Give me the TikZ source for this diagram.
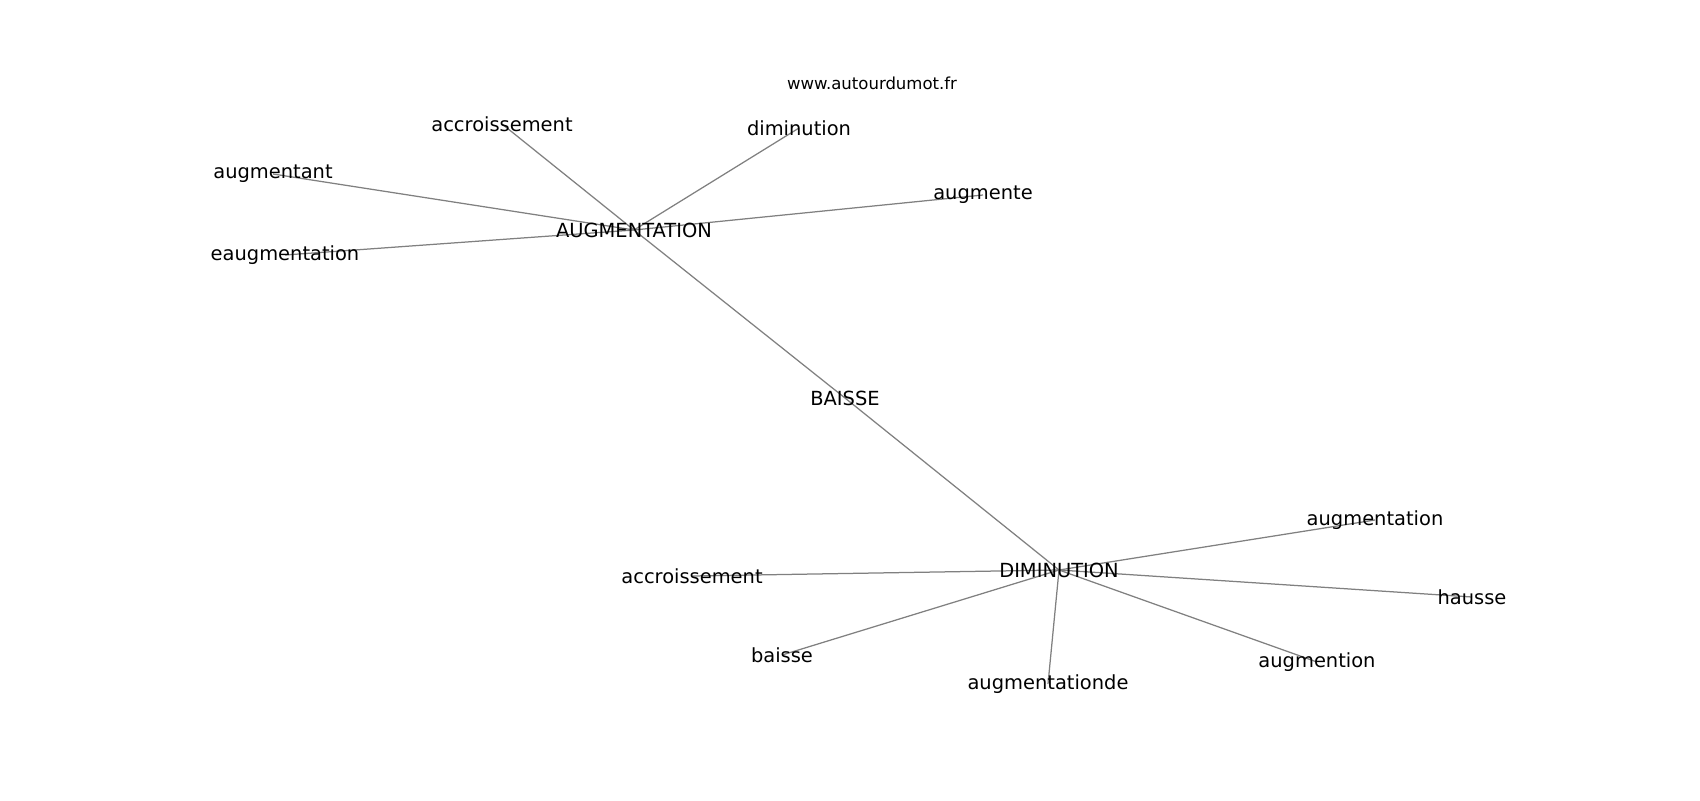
\documentclass[tikz,border=0pt]{standalone}
\usepackage{fontspec}
\setmainfont{DejaVu Sans}
\usetikzlibrary{backgrounds}

\begin{document}
\begin{tikzpicture}[x=0.72pt, y=-0.72pt]
\tikzset{
	    myword/.style={inner sep=0pt, font=\fontsize{14}{16}\selectfont, text=black},
	    mytitle/.style={inner sep=0pt, font=\fontsize{11.9}{14}\selectfont, text=black},
	    myedge/.style={draw=gray, line width=0.9pt}
	}
	\useasboundingbox (0,0) rectangle (1700,800);

	\node[mytitle] (site) at (872,83) {www.autourdumot.fr};

	\node[myword] (baisseC) at (845,398) {BAISSE};
	\node[myword] (augC) at (634,230) {AUGMENTATION};
	\node[myword] (dimC) at (1059,570) {DIMINUTION};

	\node[myword] (accA) at (502,124) {accroissement};
	\node[myword] (dimA) at (799,128) {diminution};
	\node[myword] (augmentant) at (273,174) {augmentant};
	\node[myword] (augmente) at (983,195) {augmente};
	\node[myword] (reaug) at (285,255) {eaugmentation};

	\node[myword] (augD) at (1375,520) {augmentation};
	\node[myword] (hausse) at (1472,597) {hausse};
	\node[myword] (augmention) at (1317,662) {augmention};
	\node[myword] (augde) at (1048,684) {augmentationde};
	\node[myword] (baisseD) at (782,655) {baisse};
	\node[myword] (accD) at (692,576) {accroissement};

	\begin{pgfonlayer}{background}
	\foreach \a/\b in {baisseC/augC, baisseC/dimC, augC/accA, augC/dimA, augC/augmentant, augC/augmente, augC/reaug,
	                   dimC/augD, dimC/hausse, dimC/augmention, dimC/augde, dimC/baisseD, dimC/accD}
	    \draw[myedge] (\a.center) -- (\b.center);
	\end{pgfonlayer}

\end{tikzpicture}
\end{document}
